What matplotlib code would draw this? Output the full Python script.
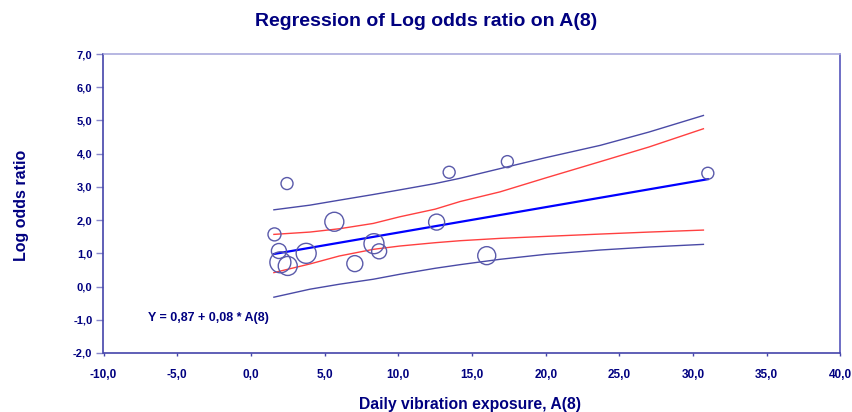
import matplotlib
matplotlib.use("Agg")
import matplotlib.pyplot as plt
import numpy as np

# ---- data ----
exposure = [1.6, 1.9, 2.0, 2.5, 2.45, 3.75, 5.66, 7.05, 8.35, 8.7, 12.6, 13.45, 16.0, 17.4, 31.0]
log_odds = [1.57, 1.07, 0.73, 0.62, 3.10, 1.00, 1.95, 0.69, 1.29, 1.06, 1.94, 3.44, 0.93, 3.76, 3.41]
weight = [13, 15, 21, 19, 12, 20, 19, 16, 20, 15, 16, 12, 18, 12, 12]  # relative study weight (circle diameter)

intercept = 0.86
slope = 0.0765
line_x = [1.56, 31.0]

band_x = [1.56, 4.0, 6.0, 8.3, 10.1, 12.5, 14.2, 16.9, 20.0, 23.7, 27.0, 30.7]
ci_upper = [1.57, 1.64, 1.74, 1.90, 2.10, 2.33, 2.56, 2.85, 3.27, 3.76, 4.20, 4.75]
ci_lower = [0.42, 0.68, 0.92, 1.12, 1.22, 1.32, 1.38, 1.45, 1.51, 1.58, 1.64, 1.70]
pi_upper = [2.31, 2.45, 2.60, 2.77, 2.91, 3.10, 3.26, 3.55, 3.88, 4.25, 4.65, 5.15]
pi_lower = [-0.32, -0.08, 0.07, 0.22, 0.37, 0.55, 0.66, 0.82, 0.97, 1.10, 1.19, 1.27]

x_ticks = [-10, -5, 0, 5, 10, 15, 20, 25, 30, 35, 40]
y_ticks = [-2, -1, 0, 1, 2, 3, 4, 5, 6, 7]

title = "Regression of Log odds ratio on A(8)"
xlabel = "Daily vibration exposure, A(8)"
ylabel = "Log odds ratio"
equation = "Y = 0,87 + 0,08 * A(8)"

# ---- styling ----
navy = "#000080"
font = "Liberation Sans"
plt.rcParams["font.family"] = [font, "DejaVu Sans"]

W, H = 853, 412
fig = plt.figure(figsize=(W / 100, H / 100), dpi=100)
ax = fig.add_axes([103.5 / W, (H - 353) / H, (840.5 - 103.5) / W, (353 - 54) / H])

ax.set_xlim(-10, 40)
ax.set_ylim(-2, 7)

ax.plot(band_x, pi_upper, color="#4a4aa6", lw=1.0)
ax.plot(band_x, pi_lower, color="#4a4aa6", lw=1.0)
ax.plot(band_x, ci_upper, color="#ff4040", lw=1.0)
ax.plot(band_x, ci_lower, color="#ff4040", lw=1.0)
lx = np.array(line_x)
ax.plot(lx, intercept + slope * lx, color="#0000ff", lw=1.6)

sizes = [(d * 0.72) ** 2 for d in weight]
ax.scatter(exposure, log_odds, s=sizes, facecolors="none", edgecolors="#5a5aaa", linewidths=1.0, zorder=3)

ax.text(-7.0, -0.95, equation, color=navy, fontsize=9, fontweight="bold", ha="left", va="center")

ax.set_xticks(x_ticks)
ax.set_yticks(y_ticks)
ax.set_xticklabels([f"{v:.1f}".replace(".", ",") for v in x_ticks])
ax.set_yticklabels([f"{v:.1f}".replace(".", ",") for v in y_ticks])

for lab in ax.get_xticklabels():
    lab.set_color(navy)
    lab.set_fontweight("bold")
    lab.set_fontsize(8.5)
for lab in ax.get_yticklabels():
    lab.set_color(navy)
    lab.set_fontweight("bold")
    lab.set_fontsize(8)

ax.tick_params(axis="x", direction="out", length=2.5, width=1, color="#4444aa", pad=9)
ax.tick_params(axis="y", direction="out", length=5, width=1, color="#8888cc", pad=3)

ax.spines["left"].set_color("#4444aa")
ax.spines["bottom"].set_color("#4444aa")
ax.spines["right"].set_color("#5555bb")
ax.spines["top"].set_color("#aaaadd")
for s in ax.spines.values():
    s.set_linewidth(1.2)

fig.text(426 / W, 1 - 22 / H, title, color=navy, fontsize=14, fontweight="bold", ha="center", va="center")
fig.text(470 / W, 1 - 405 / H, xlabel, color=navy, fontsize=11.3, fontweight="bold", ha="center", va="center")
fig.text(22 / W, 1 - 205 / H, ylabel, color=navy, fontsize=11.5, fontweight="bold", ha="center", va="center", rotation=90)

fig.savefig("out.png", dpi=100)
